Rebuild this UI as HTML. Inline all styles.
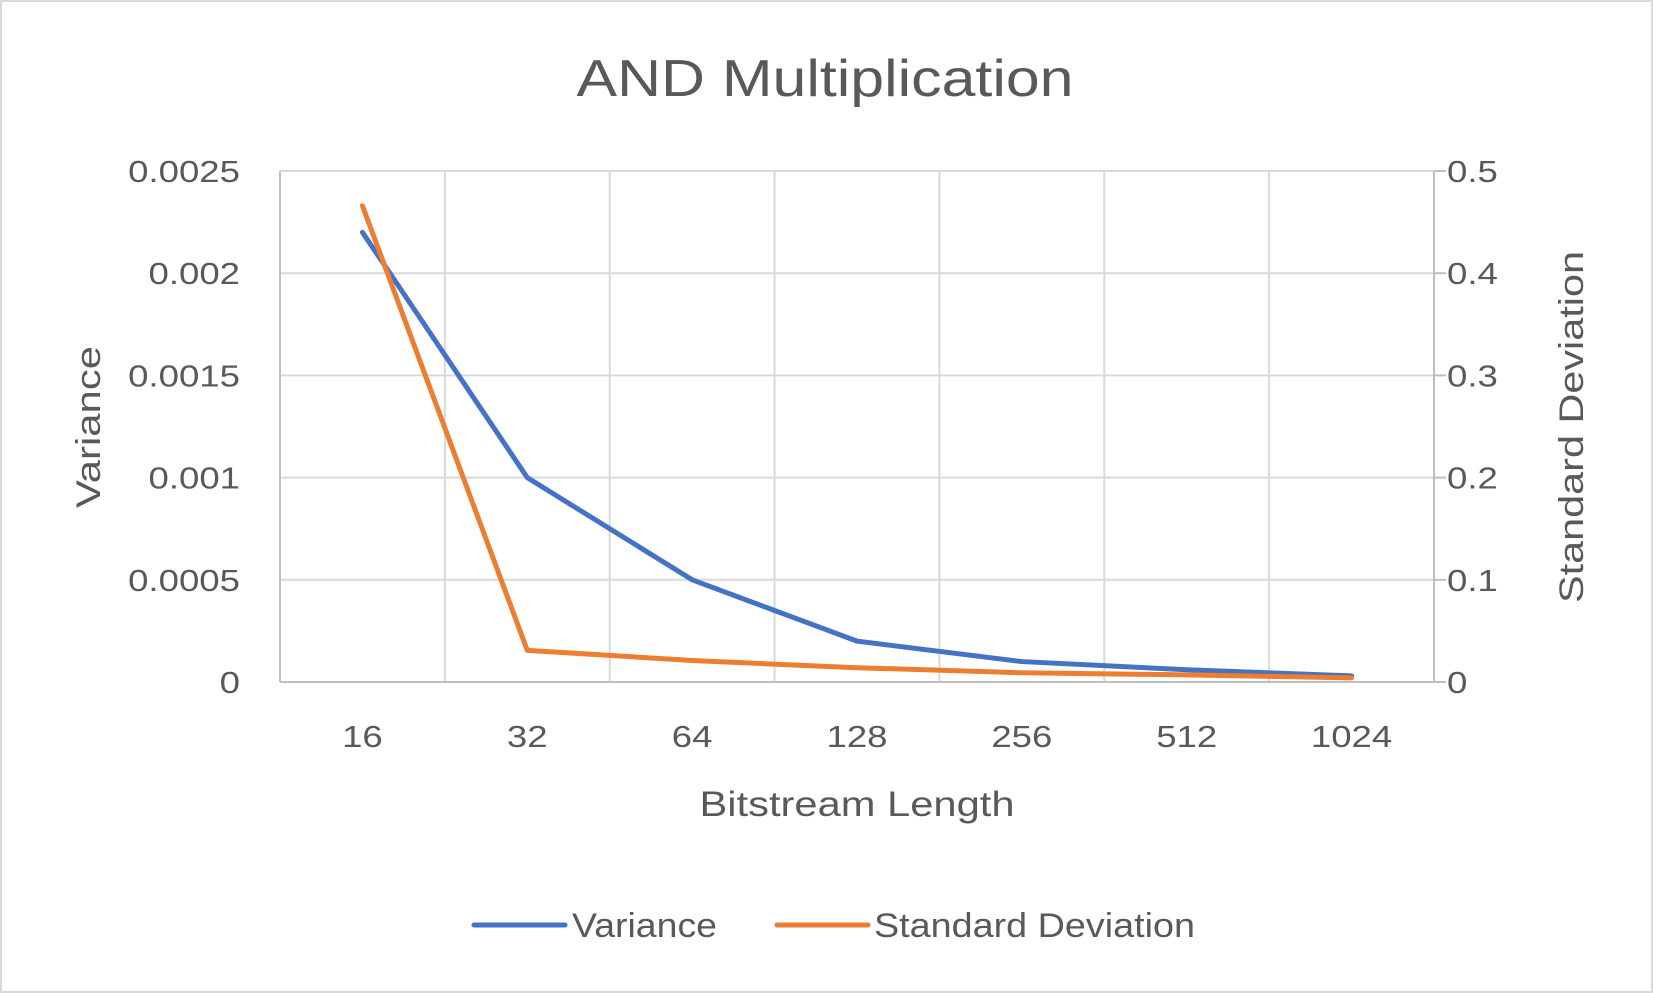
<!DOCTYPE html>
<html><head><meta charset="utf-8">
<style>
html,body{margin:0;padding:0;background:#fff;}
svg{display:block;font-family:"Liberation Sans",sans-serif;}
</style></head>
<body>
<svg id="chart" width="1653" height="993" viewBox="0 0 1653 993" xmlns="http://www.w3.org/2000/svg">
<rect x="1" y="1" width="1651" height="991" fill="#fff" stroke="#d9d9d9" stroke-width="2"/>
<text id="title" x="825" y="96" text-anchor="middle" font-size="52" fill="#595959">AND Multiplication</text>
<g id="grid"></g>
<g id="axes"></g>
<g id="series"></g>
<text transform="translate(100,427) rotate(-90)" text-anchor="middle" font-size="34" fill="#595959" textLength="162" lengthAdjust="spacingAndGlyphs">Variance</text>
<text transform="translate(1583,427) rotate(-90)" text-anchor="middle" font-size="34" fill="#595959" textLength="352" lengthAdjust="spacingAndGlyphs">Standard Deviation</text>
<text x="857" y="816" text-anchor="middle" font-size="35" fill="#595959" textLength="315" lengthAdjust="spacingAndGlyphs">Bitstream Length</text>
<g>
<line x1="474" y1="925" x2="565" y2="925" stroke="#4472C4" stroke-width="5" stroke-linecap="round"/>
<text x="572" y="937" font-size="34" fill="#595959" textLength="145" lengthAdjust="spacingAndGlyphs">Variance</text>
<line x1="777" y1="925" x2="868" y2="925" stroke="#ED7D31" stroke-width="5" stroke-linecap="round"/>
<text x="874" y="937" font-size="34" fill="#595959" textLength="321" lengthAdjust="spacingAndGlyphs">Standard Deviation</text>
</g>
</svg>
<script>
const categories = ["16","32","64","128","256","512","1024"];
const varianceValues = [0.0022,0.001,0.0005,0.0002,0.0001,0.00006,0.00003];
const stdDevValues = [0.466,0.031,0.021,0.014,0.009,0.007,0.004];
const yTicks = [0,0.0005,0.001,0.0015,0.002,0.0025];
const yTickLabels = ["0","0.0005","0.001","0.0015","0.002","0.0025"];
const y2Ticks = [0,0.1,0.2,0.3,0.4,0.5];
const y2TickLabels = ["0","0.1","0.2","0.3","0.4","0.5"];

const NS="http://www.w3.org/2000/svg";
const L=280,R=1434,T=171,B=682;
const yMax=0.0025,y2Max=0.5;
const band=(R-L)/categories.length;
const x=i=>L+band*(i+0.5);
const y=v=>B-(v/yMax)*(B-T);
const y2=v=>B-(v/y2Max)*(B-T);
function mk(tag,attrs,parent){const e=document.createElementNS(NS,tag);for(const k in attrs)e.setAttribute(k,attrs[k]);parent.appendChild(e);return e;}
function widen(el,k){const w=el.getComputedTextLength();el.setAttribute('textLength',(w*k).toFixed(1));el.setAttribute('lengthAdjust','spacingAndGlyphs');}
const grid=document.getElementById('grid'),axes=document.getElementById('axes'),series=document.getElementById('series');
widen(document.getElementById('title'),1.17);
yTicks.forEach((t,i)=>{
  if(t>0){const g=mk('line',{x1:L,x2:R,y1:y(t),y2:y(t),stroke:'#d9d9d9','stroke-width':2},grid);
  
  }
  const tx=mk('text',{x:240,y:y(t)+11,'text-anchor':'end','font-size':31,fill:'#595959'},axes);
  tx.textContent=yTickLabels[i];
  
  
  widen(tx,1.18);
});
y2Ticks.forEach((t,i)=>{
  const tk=mk('line',{x1:R,x2:R+12,y1:y2(t),y2:y2(t),stroke:'#bfbfbf','stroke-width':2},axes);
  
  
  const tx=mk('text',{x:1447,y:y2(t)+11,'text-anchor':'start','font-size':31,fill:'#595959'},axes);
  tx.textContent=y2TickLabels[i];
  
  
  widen(tx,1.18);
});
for(let i=1;i<categories.length;i++){
  const g=mk('line',{x1:L+band*i,x2:L+band*i,y1:T,y2:B,stroke:'#d9d9d9','stroke-width':2},grid);
  
  
}
categories.forEach((c,i)=>{
  const tx=mk('text',{x:x(i),y:747,'text-anchor':'middle','font-size':31,fill:'#595959'},axes);
  tx.textContent=c;
  
  
  widen(tx,1.18);
});
const la=mk('line',{x1:L,x2:L,y1:T,y2:B,stroke:'#bfbfbf','stroke-width':2},axes);


const ra=mk('line',{x1:R,x2:R,y1:T,y2:B,stroke:'#bfbfbf','stroke-width':2},axes);


const ba=mk('line',{x1:L,x2:R+12,y1:B,y2:B,stroke:'#bfbfbf','stroke-width':2},axes);


const vp=mk('polyline',{points:varianceValues.map((v,i)=>x(i)+','+y(v)).join(' '),fill:'none',stroke:'#4472C4','stroke-width':5,'stroke-linecap':'round','stroke-linejoin':'round'},series);


const sp=mk('polyline',{points:stdDevValues.map((v,i)=>x(i)+','+y2(v)).join(' '),fill:'none',stroke:'#ED7D31','stroke-width':5,'stroke-linecap':'round','stroke-linejoin':'round'},series);


</script>
</body></html>
